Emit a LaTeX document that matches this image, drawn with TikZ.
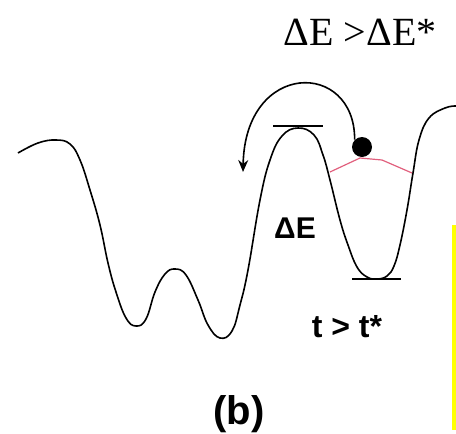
\documentclass[tikz,border=0pt]{standalone}
\usepackage{fontspec}
\setmainfont{Liberation Serif}
\setsansfont{Liberation Sans}
\usetikzlibrary{positioning,arrows.meta}
\definecolor{kink}{RGB}{225,95,125}
\definecolor{rail}{RGB}{255,255,0}
\tikzset{
  krivka/.style={line width=0.8pt,black},
  hladina/.style={line width=0.9pt},
  skok/.style={-{Stealth[length=6pt,width=5pt]},line width=0.8pt},
  kulicka/.style={circle,fill=black,minimum size=10pt,inner sep=0pt},
  popis/.style={font=\sffamily\bfseries\fontsize{15}{15}\selectfont,inner sep=0pt},
}
\begin{document}
\begin{tikzpicture}[x=0.5pt,y=-0.5pt]
\useasboundingbox (0,0) rectangle (456,434);
% energy landscape
\draw[krivka] plot[smooth,tension=0.7] coordinates {
  (18,153) (38,143) (56,140) (70,144) (80,160) (90,190) (100,225) (108,263)
  (116,292) (126,318) (136,326) (146,319) (155,292) (165,274) (175,269)
  (186,275) (198,300) (208,325) (220,338) (232,331) (240,305) (248,270)
  (260,200) (270,160) (282,136) (298,128) (314,135) (323,155)
  (330,180) (340,220) (348,245) (357,267) (367,277) (377,279) (387,276)
  (394,266) (400,245) (407,210) (413,173) (419,140) (429,118) (445,108) (456,106)};
% levels
\draw[hladina] (273,126) -- (323,126);
\draw[hladina] (352,279) -- (401,279);
% modified well
\draw[kink,line width=0.6pt] (330,172) -- (360,158) -- (382,160) -- (412,173);
\node[kulicka] (ball) at (362,147) {};
\coordinate (land) at (243,172);
\draw[skok] (ball.north west) .. controls (355,60) and (245,60) .. (land);
% labels
\node[font=\fontsize{20}{20}\selectfont,inner sep=0pt,anchor=base] (crit) at (360,45) {ΔE >ΔE*};
\node[popis,anchor=base] (de) at (295,238) {ΔE};
\node[popis,font=\sffamily\bfseries\fontsize{16}{16}\selectfont,anchor=base] (time) at (347,337) {t > t*};
\node[popis,font=\sffamily\bfseries\fontsize{20}{20}\selectfont] (tag) at (239,414) {(b)};
\draw[rail,line width=2pt] (454,225) -- (454,430);
\end{tikzpicture}
\end{document}
